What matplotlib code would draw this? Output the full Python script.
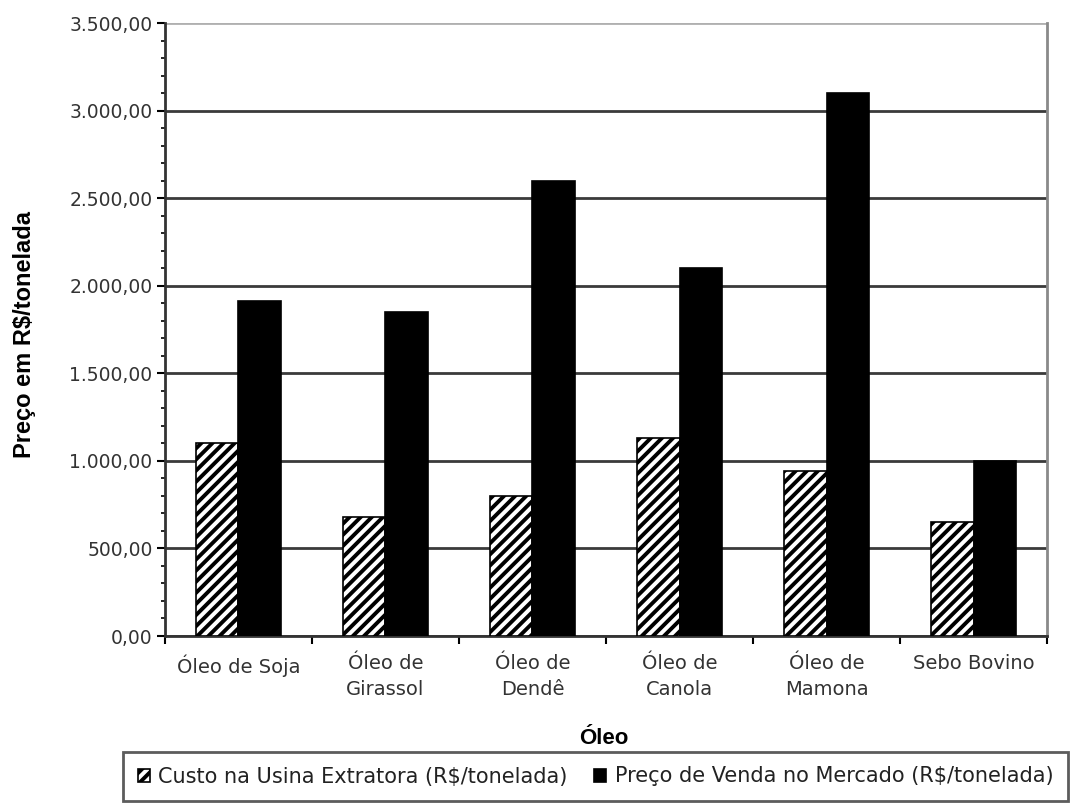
import numpy as np
import matplotlib
matplotlib.use('Agg')
import matplotlib.pyplot as plt
from matplotlib.ticker import FuncFormatter

plt.rcParams['font.family'] = ['DejaVu Sans']
plt.rcParams['hatch.linewidth'] = 2.8

oleos = ['Óleo de Soja', 'Óleo de\nGirassol', 'Óleo de\nDendê', 'Óleo de\nCanola',
         'Óleo de\nMamona', 'Sebo Bovino']
custo = [1100, 680, 800, 1130, 940, 650]
preco = [1910, 1850, 2600, 2100, 3100, 1000]

fig = plt.figure(figsize=(10.72, 8.1), dpi=100)
ax = fig.add_axes([0.1539, 0.2148, 0.8228, 0.7568])

x = np.arange(len(oleos))
w = 0.29
ax.bar(x - w/2, custo, w, color='white', edgecolor='black', hatch='///',
       linewidth=1.2, label='Custo na Usina Extratora (R$/tonelada)', zorder=3)
ax.bar(x + w/2, preco, w, color='black', edgecolor='black', linewidth=1.2,
       label='Preço de Venda no Mercado (R$/tonelada)', zorder=3)

ax.set_xlim(-0.5, len(oleos) - 0.5)
ax.set_ylim(0, 3500)
ax.set_yticks(np.arange(0, 3501, 500))
ax.set_yticks(np.arange(0, 3501, 100), minor=True)
fmt = lambda v, p: ('{:,.2f}'.format(v)).replace(',', 'X').replace('.', ',').replace('X', '.')
ax.yaxis.set_major_formatter(FuncFormatter(fmt))
ax.grid(axis='y', color='#3a3a3a', linewidth=2, zorder=0)
ax.get_ygridlines()[-1].set_color('#b0b0b0')

ax.set_xticks(x)
ax.set_xticklabels(oleos, fontsize=14, color='#333333', linespacing=1.45)
ax.set_xticks(np.arange(len(oleos) + 1) - 0.5, minor=True)
ax.tick_params(axis='x', which='major', length=0, pad=13)
ax.tick_params(axis='x', which='minor', length=6, direction='out', width=1.5)
ax.tick_params(axis='y', which='major', length=6, width=1.5, labelsize=13.5,
               labelcolor='#333333', pad=3)
ax.tick_params(axis='y', which='minor', length=3, width=1.2)

for s in ['left', 'bottom']:
    ax.spines[s].set_color('#333333')
    ax.spines[s].set_linewidth(2)
ax.spines['right'].set_color('#8a8a8a')
ax.spines['right'].set_linewidth(2)
ax.spines['top'].set_visible(False)

fig.text(25/1072, 1 - 334/810, 'Preço em R$/tonelada', rotation=90, ha='center',
         va='center', fontsize=17, fontweight='bold', family='Liberation Sans')
fig.text(604/1072, 1 - 738/810, 'Óleo', ha='center', va='center', fontsize=16,
         fontweight='bold', family='Liberation Sans')

leg = fig.legend(loc='center', bbox_to_anchor=(123/1072, 10/810, 945/1072, 47/810),
                 mode='expand', ncol=2, frameon=True, fancybox=False, fontsize=15,
                 handlelength=0.6, handleheight=0.6, handletextpad=0.4,
                 columnspacing=0.8, borderpad=0.7, borderaxespad=0)
leg.get_frame().set_edgecolor('#333333')
leg.get_frame().set_linewidth(2)
for t in leg.get_texts():
    t.set_color('#222222')

fig.savefig('out.png', dpi=100)
